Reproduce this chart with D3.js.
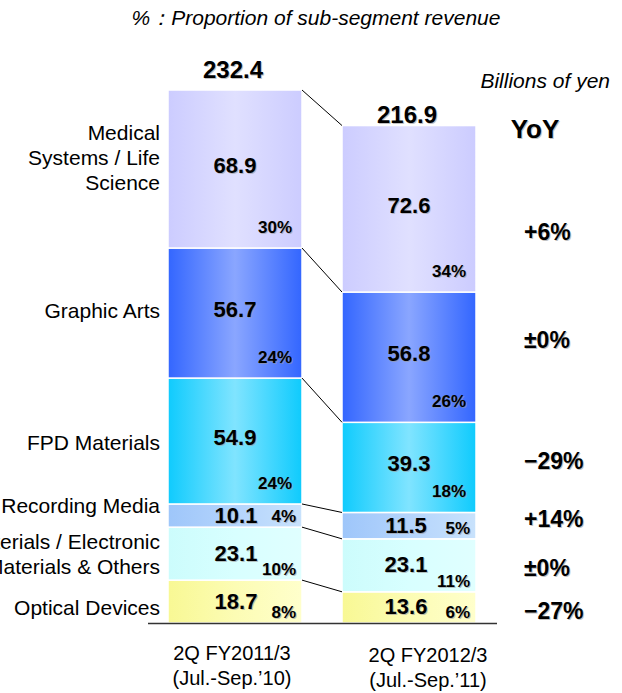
<!DOCTYPE html>
<html>
<head>
<meta charset="utf-8">
<script src="https://cdn.jsdelivr.net/npm/d3@7"></script>
<style>
  body { margin: 0; background: #fff; }
  svg text { font-family: "Liberation Sans", Arial, sans-serif; }
</style>
</head>
<body>
<svg id="chart" width="622" height="693"></svg>
<script>
// segments listed bottom -> top (stack order)
const segments = ['Optical Devices', 'Materials / Electronic Materials & Others', 'Recording Media',
  'FPD Materials', 'Graphic Arts', 'Medical Systems / Life Science'];
const segmentLines = [['Optical Devices'], ['Materials / Electronic', 'Materials & Others'], ['Recording Media'],
  ['FPD Materials'], ['Graphic Arts'], ['Medical', 'Systems / Life', 'Science']];
const periods = ['2Q FY2011/3', '2Q FY2012/3'];
const periodSub = ['(Jul.-Sep.\u201910)', '(Jul.-Sep.\u201911)'];
const values2011 = [18.7, 23.1, 10.1, 54.9, 56.7, 68.9];
const values2012 = [13.6, 23.1, 11.5, 39.3, 56.8, 72.6];
const share2011 = ['8%', '10%', '4%', '24%', '24%', '30%'];
const share2012 = ['6%', '11%', '5%', '18%', '26%', '34%'];
const yoy = ['\u221227%', '\u00b10%', '+14%', '\u221229%', '\u00b10%', '+6%'];
const totals = [232.4, 216.9];

// gradient stops per segment: [edge/left, middle, edge/right]
const grads = [
  ['#f8f894', '#fcfcb4', '#ffffcc'],
  ['#ccfcfc', '#d8ffff', '#e0ffff'],
  ['#9ec6fa', '#b4d4fc', '#c8e2fc'],
  ['#0fcbfd', '#80e4ff', '#0fcbfd'],
  ['#3366ff', '#8aa6ff', '#3366ff'],
  ['#ccccff', '#e0e0ff', '#ccccff']
];

const svg = d3.select('#chart');
const defs = svg.append('defs');
grads.forEach((g, i) => {
  let lg = defs.append('linearGradient').attr('id', 'grad' + i)
    .attr('x1', '0%').attr('x2', '100%').attr('y1', '0%').attr('y2', '0%');
  g.forEach((c, j) => lg.append('stop').attr('offset', (j * 50) + '%').attr('stop-color', c));
});

const rows = periods.map((p, pi) => {
  let r = {period: p};
  let vals = pi == 0 ? values2011 : values2012;
  segments.forEach((s, i) => r[s] = vals[i]);
  return r;
});
const shares = [share2011, share2012];

const x = d3.scaleBand().domain(periods).range([168, 476]).paddingInner(40 / 174).paddingOuter(0);
const y = d3.scaleLinear().domain([0, 232.4]).range([623, 90]);
const stack = d3.stack().keys(segments)(rows);

// bars
const layers = svg.append('g').selectAll('g.layer')
  .data(stack).enter().append('g').classed('layer', true)
  .attr('fill', (d, i) => `url(#grad${i})`);
layers.selectAll('rect').data(d => d).enter().append('rect')
  .attr('x', d => x(d.data.period))
  .attr('width', x.bandwidth())
  .attr('y', d => y(d[1]))
  .attr('height', d => y(d[0]) - y(d[1]))
  .attr('stroke', '#fff').attr('stroke-width', 1.5);

// connector lines from bar 1 to bar 2 at the top of each segment
svg.append('g').selectAll('line').data(stack).enter().append('line')
  .attr('x1', x(periods[0]) + x.bandwidth())
  .attr('x2', x(periods[1]))
  .attr('y1', d => y(d[0][1]))
  .attr('y2', d => y(d[1][1]))
  .attr('stroke', '#000').attr('stroke-width', 1);

// baseline
svg.append('line').attr('x1', 148).attr('x2', 497)
  .attr('y1', y(0) + 0.5).attr('y2', y(0) + 0.5)
  .attr('stroke', '#333').attr('stroke-width', 1.5);

function shadowText(parent, xx, yy, txt, size, anchor) {
  parent.append('text').attr('x', xx + 1).attr('y', yy + 1).text(txt)
    .attr('font-size', size).attr('font-weight', 'bold').attr('text-anchor', anchor)
    .attr('fill', '#999').attr('opacity', 0.6);
  parent.append('text').attr('x', xx).attr('y', yy).text(txt)
    .attr('font-size', size).attr('font-weight', 'bold').attr('text-anchor', anchor)
    .attr('fill', '#000');
}

// value and share labels
const labels = svg.append('g');
stack.forEach((layer, si) => {
  layer.forEach((d, pi) => {
    let v = d[1] - d[0];
    let left = x(d.data.period), right = left + x.bandwidth(), cx = left + x.bandwidth() / 2;
    let top = y(d[1]), bottom = y(d[0]), mid = (top + bottom) / 2;
    if (v > 30) {
      shadowText(labels, cx, mid + 4, v.toFixed(1), 22, 'middle');
      shadowText(labels, right - 10, bottom - 15, shares[pi][si], 17, 'end');
    } else {
      shadowText(labels, cx + (pi == 0 ? 1 : -3), mid + 7, v.toFixed(1), 22, 'middle');
      shadowText(labels, right - 6, bottom - 5, shares[pi][si], 17, 'end');
    }
  });
});

// totals
totals.forEach((t, i) => {
  let cx = x(periods[i]) + x.bandwidth() / 2 - 2;
  let dy = i == 0 ? -12 : -3;
  shadowText(svg, cx, y(t) + dy, t.toFixed(1), 24, 'middle');
});

// category labels on the left, centred on bar 1's segments
const labelNudge = [6, 1, -10, 2, -2, -11];
const catG = svg.append('g');
stack.forEach((layer, si) => {
  let d = layer[0];
  let cy = (y(d[0]) + y(d[1])) / 2 + labelNudge[si];
  let lines = segmentLines[si];
  let t = catG.append('text').attr('text-anchor', 'end').attr('font-size', 21).attr('fill', '#000');
  lines.forEach((ln, li) => {
    t.append('tspan').attr('x', 160)
      .attr('y', cy + (li - (lines.length - 1) / 2) * 25 + 7)
      .text(ln);
  });
});

// YoY column
const yoyNudge = [5, 4, -6, -5, -16, 24];
const yoyG = svg.append('g');
stack.forEach((layer, si) => {
  let d = layer[1];
  let cy = (y(d[0]) + y(d[1])) / 2 + yoyNudge[si];
  shadowText(yoyG, 524, cy + 7, yoy[si], 23, 'start');
});
shadowText(svg, 535, 138, 'YoY', 26, 'middle');

// period labels under the bars
const periodNudge = [-3, 19];
periods.forEach((p, i) => {
  let cx = x(p) + x.bandwidth() / 2 + periodNudge[i];
  let t = svg.append('text').attr('text-anchor', 'middle').attr('font-size', 20).attr('fill', '#000');
  t.append('tspan').attr('x', cx).attr('y', 660 + i * 2).text(p);
  t.append('tspan').attr('x', cx).attr('y', 685 + i * 2).text(periodSub[i]);
});

// title and unit
svg.append('text').attr('x', 316).attr('y', 25).attr('text-anchor', 'middle')
  .attr('font-size', 21).attr('font-style', 'italic').attr('fill', '#000')
  .text('%\uff1aProportion of sub-segment revenue');
svg.append('text').attr('x', 610).attr('y', 88).attr('text-anchor', 'end')
  .attr('font-size', 21).attr('font-style', 'italic').attr('fill', '#000')
  .text('Billions of yen');
</script>
</body>
</html>
